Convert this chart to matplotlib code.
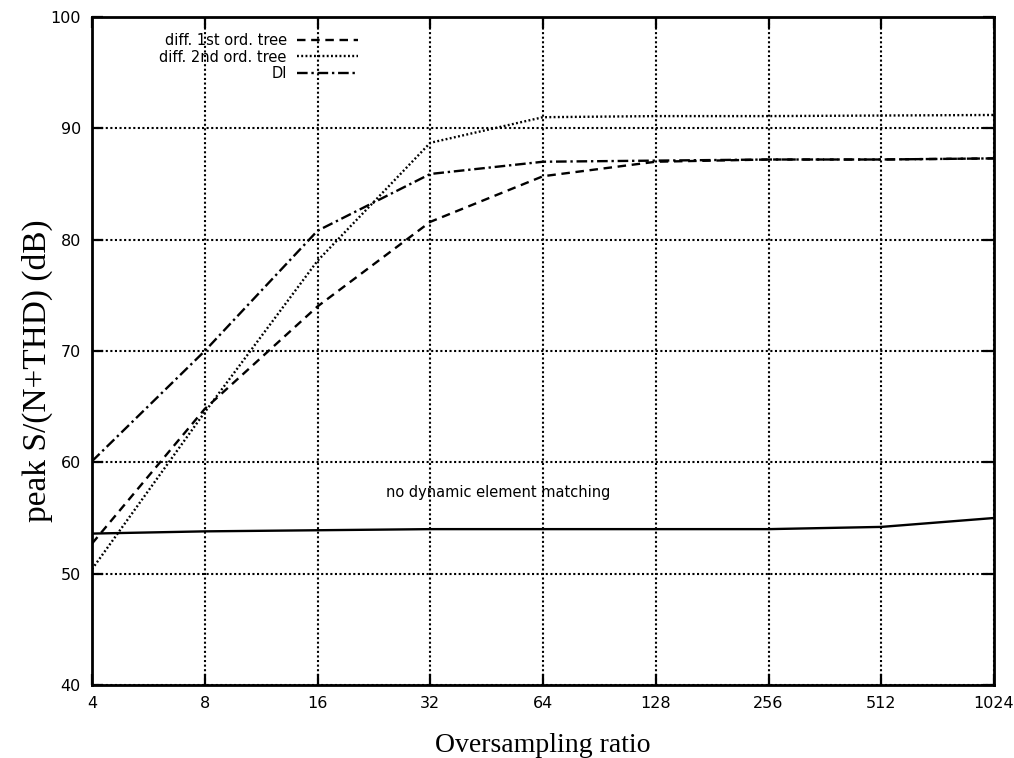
import numpy as np
import matplotlib.pyplot as plt

# oversampling ratios and measured peak S/(N+THD) values (dB)
osr = [4, 8, 16, 32, 64, 128, 256, 512, 1024]
tree1 = [52.7, 64.8, 74.0, 81.6, 85.7, 87.0, 87.2, 87.2, 87.3]
tree2 = [50.4, 64.5, 78.1, 88.7, 91.0, 91.1, 91.1, 91.15, 91.2]
di = [60.1, 70.0, 80.8, 85.9, 87.0, 87.1, 87.2, 87.2, 87.3]
no_dem = [53.6, 53.8, 53.9, 54.0, 54.0, 54.0, 54.0, 54.2, 55.0]

labels = ['diff. 1st ord. tree', 'diff. 2nd ord. tree', 'DI']
tick_font = 'DejaVu Sans'
serif_font = 'Liberation Serif'

fig = plt.figure(figsize=(10.14, 7.58), dpi=100)
ax = fig.add_axes([92 / 1014, 1 - 685 / 758, 902 / 1014, 668 / 758])

lw = 1.7
ax.plot(osr, tree1, color='black', lw=lw, linestyle=(0, (3.6, 2.4)), label=labels[0])
ax.plot(osr, tree2, color='black', lw=lw, linestyle=(0, (0.8, 1.0)), label=labels[1])
ax.plot(osr, di, color='black', lw=lw, linestyle=(0, (4.5, 1.6, 1.0, 1.6)), label=labels[2])
ax.plot(osr, no_dem, color='black', lw=lw, linestyle='-')

ax.text(48.5, 57.3, 'no dynamic element matching', ha='center', va='center',
        fontsize=10.5, family=tick_font)

ax.set_xscale('log', base=2)
ax.set_xlim(4, 1024)
ax.set_ylim(40, 100)
ax.set_xticks(osr)
ax.set_xticklabels([str(v) for v in osr])
ax.minorticks_off()
ax.set_yticks(np.arange(40, 101, 10))

ax.grid(True, color='black', linestyle=(0, (1, 1.2)), lw=1.5)
ax.tick_params(direction='in', length=8, width=1.6, top=True, right=True,
               labelsize=11.5, pad=8)
for lab in ax.get_xticklabels() + ax.get_yticklabels():
    lab.set_family(tick_font)
for sp in ax.spines.values():
    sp.set_linewidth(2)

ax.set_xlabel('Oversampling ratio', fontsize=20, family=serif_font, labelpad=16)
ax.set_ylabel('peak S/(N+THD) (dB)', fontsize=24, family=serif_font)
ax.yaxis.set_label_coords(-0.043, 0.47)

leg = ax.legend(loc='upper right', bbox_to_anchor=(0.3015, 0.985), frameon=False,
                markerfirst=False, handlelength=4.2, labelspacing=0.12,
                borderaxespad=0, handletextpad=0.7, prop={'family': tick_font, 'size': 10.5})

fig.savefig('out.png', dpi=100)
